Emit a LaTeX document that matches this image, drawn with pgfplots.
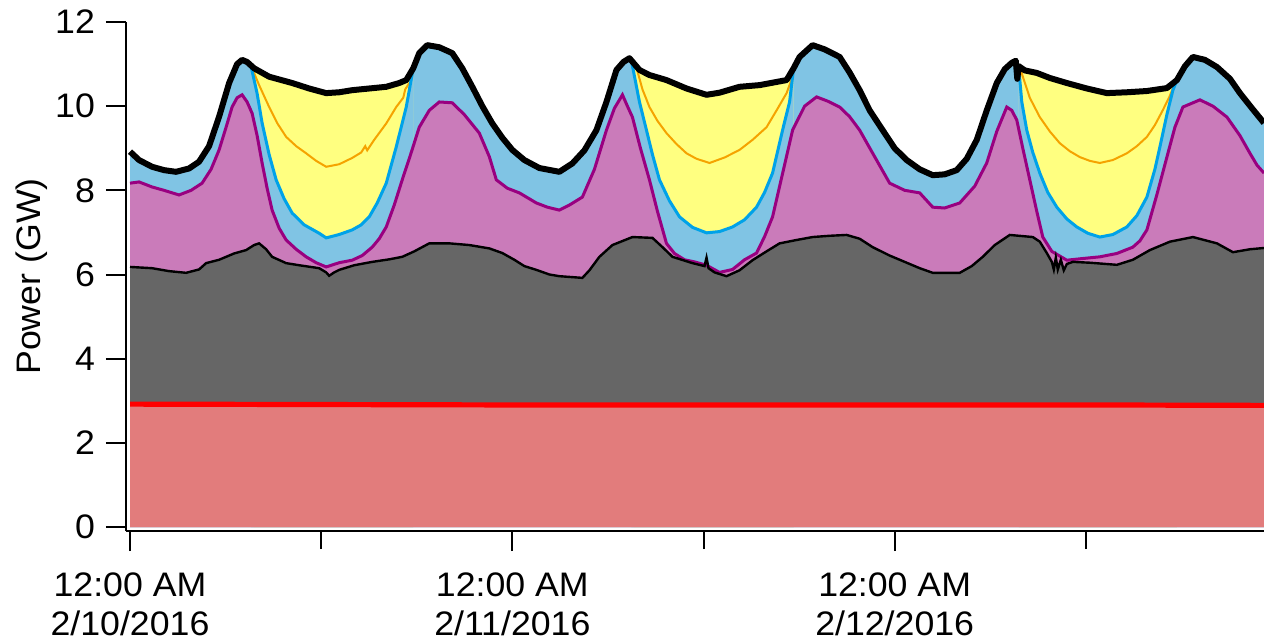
\documentclass[border=0pt]{standalone}
\usepackage{fontspec}
\setmainfont{Liberation Sans}[FakeStretch=1.05]
\usepackage{pgfplots}
\pgfplotsset{compat=1.18}
\usepackage{pgfplotstable}

\definecolor{cyellow}{HTML}{FFFF80}
\definecolor{clblue}{HTML}{80C4E4}
\definecolor{cmag}{HTML}{CA7BBA}
\definecolor{cpurp}{HTML}{990080}
\definecolor{cgray}{HTML}{666666}
\definecolor{csalmon}{HTML}{E27C7C}
\definecolor{cred}{HTML}{FF0000}
\definecolor{cblue}{HTML}{00A2E8}
\definecolor{corange}{HTML}{F5A300}

% Total (top black line)
\pgfplotstableread{
x y
0.0000 8.92
0.0236 8.72
0.0576 8.56
0.0890 8.48
0.1204 8.44
0.1545 8.52
0.1806 8.68
0.2068 9.05
0.2330 9.75
0.2592 10.55
0.2801 11.00
0.2932 11.10
0.3063 11.05
0.3246 10.90
0.3639 10.70
0.4241 10.55
0.4686 10.42
0.5131 10.31
0.5471 10.33
0.5812 10.38
0.6257 10.42
0.6702 10.46
0.7042 10.55
0.7225 10.62
0.7408 10.90
0.7565 11.26
0.7775 11.45
0.8089 11.40
0.8429 11.26
0.8691 10.90
0.8953 10.46
0.9215 10.00
0.9476 9.59
0.9738 9.25
1.0000 8.96
1.0314 8.72
1.0707 8.53
1.1230 8.44
1.1571 8.64
1.1885 8.95
1.2199 9.43
1.2461 10.10
1.2723 10.86
1.2906 11.05
1.3063 11.14
1.3194 11.00
1.3325 10.86
1.3586 10.74
1.4031 10.62
1.4555 10.42
1.5079 10.27
1.5419 10.32
1.5942 10.46
1.6466 10.50
1.7173 10.62
1.7356 10.90
1.7513 11.17
1.7853 11.45
1.8168 11.35
1.8560 11.17
1.8822 10.80
1.9084 10.38
1.9346 9.90
1.9686 9.43
2.0000 9.00
2.0314 8.72
2.0654 8.50
2.0995 8.36
2.1309 8.38
2.1623 8.48
2.1885 8.75
2.2147 9.20
2.2408 9.90
2.2670 10.55
2.2880 10.88
2.3063 11.03
2.3168 11.08
2.3207 10.65
2.3246 10.95
2.3403 10.85
2.3717 10.79
2.4058 10.67
2.4503 10.55
2.5026 10.42
2.5550 10.31
2.6073 10.33
2.6597 10.36
2.7120 10.43
2.7382 10.62
2.7592 10.95
2.7801 11.17
2.8115 11.10
2.8429 10.93
2.8770 10.65
2.9031 10.31
2.9346 9.95
2.9660 9.60
}\Ttab

% Blue line (bottom of yellow), day segments
\pgfplotstableread{
x y
0.3168 10.94
0.3325 10.30
0.3455 9.60
0.3639 8.85
0.3822 8.25
0.4031 7.80
0.4241 7.46
0.4555 7.18
0.4948 6.98
0.5131 6.87
0.5471 6.95
0.5812 7.06
0.6047 7.18
0.6257 7.37
0.6466 7.70
0.6702 8.17
0.6963 9.03
0.7225 9.98
0.7408 10.90
}\Ba
\pgfplotstableread{
x y
1.3115 11.08
1.3325 10.10
1.3508 9.43
1.3665 8.85
1.3848 8.25
1.4110 7.75
1.4372 7.37
1.4712 7.12
1.5079 6.99
1.5419 7.02
1.5759 7.13
1.6073 7.30
1.6387 7.60
1.6597 7.95
1.6806 8.41
1.7068 9.43
1.7251 10.10
1.7356 10.90
}\Bb
\pgfplotstableread{
x y
2.3246 10.90
2.3325 10.10
2.3455 9.43
2.3613 8.90
2.3796 8.41
2.4005 7.95
2.4241 7.60
2.4503 7.32
2.4764 7.13
2.5052 6.98
2.5366 6.89
2.5707 6.95
2.6073 7.13
2.6335 7.40
2.6597 7.84
2.6806 8.50
2.6937 9.03
2.7120 9.80
2.7277 10.38
2.7382 10.62
}\Bc

% Orange line
\pgfplotstableread{
x y
0.3194 10.90
0.3377 10.50
0.3639 9.98
0.3848 9.60
0.4084 9.27
0.4346 9.05
0.4607 8.88
0.4869 8.70
0.5131 8.56
0.5471 8.62
0.5812 8.77
0.6047 8.90
0.6152 9.05
0.6204 8.95
0.6387 9.20
0.6702 9.59
0.6963 9.98
0.7147 10.20
0.7199 10.40
0.7304 10.55
}\Oa
\pgfplotstableread{
x y
1.3220 11.00
1.3403 10.40
1.3586 9.98
1.3796 9.65
1.4031 9.36
1.4293 9.10
1.4555 8.88
1.4817 8.75
1.5157 8.65
1.5550 8.78
1.5942 8.96
1.6283 9.20
1.6649 9.50
1.6911 9.90
1.7173 10.31
1.7330 10.70
}\Ob
\pgfplotstableread{
x y
2.3298 10.85
2.3534 10.20
2.3796 9.74
2.4058 9.40
2.4319 9.12
2.4581 8.93
2.4843 8.79
2.5105 8.70
2.5366 8.65
2.5707 8.72
2.6073 8.88
2.6335 9.05
2.6597 9.27
2.6806 9.55
2.7016 9.91
2.7199 10.25
2.7330 10.55
}\Oc

% Purple line (top of magenta)
\pgfplotstableread{
x y
0.0000 8.17
0.0236 8.20
0.0576 8.08
0.0890 8.00
0.1283 7.89
0.1597 8.00
0.1885 8.17
0.2120 8.50
0.2330 8.96
0.2513 9.50
0.2670 9.98
0.2801 10.20
0.2932 10.27
0.3063 10.10
0.3194 9.83
0.3325 9.30
0.3455 8.65
0.3586 8.05
0.3717 7.53
0.3901 7.10
0.4084 6.82
0.4346 6.60
0.4607 6.42
0.4869 6.28
0.5131 6.18
0.5471 6.28
0.5812 6.34
0.6073 6.45
0.6335 6.65
0.6518 6.85
0.6702 7.13
0.6911 7.65
0.7120 8.25
0.7356 8.90
0.7565 9.50
0.7827 9.90
0.8089 10.10
0.8429 10.08
0.8743 9.80
0.9136 9.36
0.9398 8.80
0.9581 8.25
0.9869 8.05
1.0183 7.94
1.0628 7.70
1.0916 7.60
1.1230 7.53
1.1492 7.65
1.1832 7.84
1.2147 8.50
1.2461 9.43
1.2670 9.95
1.2880 10.27
1.3010 10.00
1.3141 9.74
1.3351 9.00
1.3586 8.25
1.3796 7.50
1.4031 6.74
1.4241 6.50
1.4503 6.35
1.4764 6.30
1.5079 6.22
1.5419 6.05
1.5759 6.12
1.6073 6.35
1.6387 6.51
1.6597 6.90
1.6806 7.37
1.7068 8.40
1.7330 9.43
1.7644 10.00
1.7958 10.22
1.8246 10.12
1.8560 9.98
1.8822 9.75
1.9084 9.43
1.9476 8.80
1.9869 8.17
2.0262 8.00
2.0654 7.94
2.0995 7.60
2.1309 7.58
2.1702 7.70
2.2094 8.10
2.2408 8.65
2.2670 9.40
2.2932 9.98
2.3063 9.90
2.3194 9.67
2.3351 9.00
2.3534 8.25
2.3717 7.50
2.3874 6.89
2.4110 6.55
2.4503 6.34
2.4921 6.38
2.5366 6.42
2.5812 6.50
2.6230 6.65
2.6414 6.80
2.6597 7.06
2.6859 7.90
2.7120 8.79
2.7330 9.50
2.7539 9.98
2.7984 10.15
2.8325 10.00
2.8691 9.74
2.9031 9.30
2.9293 8.88
2.9476 8.60
2.9660 8.41
}\Ptab

% Grey layer top
\pgfplotstableread{
x y
0.0000 6.18
0.0576 6.15
0.1021 6.08
0.1466 6.04
0.1806 6.12
0.1990 6.27
0.2330 6.35
0.2723 6.50
0.3037 6.58
0.3246 6.70
0.3377 6.74
0.3560 6.60
0.3717 6.42
0.4084 6.27
0.4424 6.22
0.4948 6.15
0.5131 6.05
0.5209 5.97
0.5340 6.05
0.5471 6.11
0.5864 6.22
0.6335 6.30
0.6780 6.36
0.7120 6.42
0.7435 6.55
0.7827 6.74
0.8351 6.74
0.8874 6.70
0.9398 6.62
0.9738 6.51
1.0052 6.35
1.0314 6.20
1.0628 6.11
1.0969 6.00
1.1230 5.96
1.1832 5.92
1.2016 6.10
1.2277 6.42
1.2618 6.70
1.3141 6.89
1.3665 6.87
1.3927 6.65
1.4188 6.42
1.4712 6.27
1.5026 6.20
1.5079 6.40
1.5131 6.15
1.5288 6.05
1.5602 5.96
1.5942 6.10
1.6283 6.34
1.6649 6.55
1.6990 6.74
1.7435 6.82
1.7853 6.89
1.8298 6.92
1.8743 6.94
1.9084 6.85
1.9424 6.65
1.9869 6.45
2.0262 6.30
2.0654 6.15
2.0995 6.04
2.1702 6.04
2.2016 6.20
2.2304 6.42
2.2618 6.70
2.3010 6.94
2.3613 6.89
2.3796 6.78
2.3979 6.51
2.4110 6.30
2.4162 6.12
2.4215 6.40
2.4267 6.12
2.4346 6.35
2.4424 6.10
2.4503 6.25
2.4660 6.30
2.5105 6.28
2.5812 6.23
2.6230 6.35
2.6675 6.58
2.7199 6.78
2.7801 6.89
2.8429 6.74
2.8848 6.53
2.9293 6.60
2.9660 6.63
}\Gtab

% Red layer top
\pgfplotstableread{
x y
0.0000 2.92
0.5000 2.91
1.0000 2.90
1.5000 2.90
2.0000 2.90
2.5000 2.90
2.9660 2.89
}\Rtab

\begin{document}
\begin{tikzpicture}
\begin{axis}[
  scale only axis,
  width=569pt, height=254.5pt,
  xmin=-0.0105, xmax=2.966,
  ymin=-0.095, ymax=12,
  axis x line*=bottom, axis y line*=left,
  axis line style={-, line width=1pt, black},
  xtick={0,1,2},
  xticklabels={{12:00 AM\\2/10/2016},{12:00 AM\\2/11/2016},{12:00 AM\\2/12/2016}},
  minor xtick={0.5,1.5,2.5},
  ytick={0,2,4,6,8,10,12},
  tick align=outside,
  major tick length=10pt, minor tick length=9pt,
  every tick/.style={black, line width=1pt},
  /pgf/number format/assume math mode=true,
  tick label style={font=\fontsize{17}{19.5}\selectfont},
  xticklabel style={align=center, yshift=-7.5pt},
  yticklabel style={xshift=-2pt},
  ylabel={Power (GW)},
  ylabel style={font=\fontsize{17}{19.5}\selectfont, at={(axis description cs:-0.0826,0.5)}, anchor=center},
  clip=true,
]
\coordinate (O) at (rel axis cs:0,0);
\coordinate (E) at (rel axis cs:1,1);
% fills
\addplot[draw=none, fill=clblue] table {\Ttab} \closedcycle;
\addplot[draw=none, fill=cyellow, restrict x to domain=0.3168:0.7408] table {\Ttab} \closedcycle;
\addplot[draw=none, fill=cyellow, restrict x to domain=1.3115:1.7356] table {\Ttab} \closedcycle;
\addplot[draw=none, fill=cyellow, restrict x to domain=2.3246:2.7382] table {\Ttab} \closedcycle;
\addplot[draw=none, fill=clblue] table {\Ba} \closedcycle;
\addplot[draw=none, fill=clblue] table {\Bb} \closedcycle;
\addplot[draw=none, fill=clblue] table {\Bc} \closedcycle;
\addplot[draw=none, fill=cmag] table {\Ptab} \closedcycle;
\addplot[draw=none, fill=cgray] table {\Gtab} \closedcycle;
\addplot[draw=none, fill=csalmon] table {\Rtab} \closedcycle;
% lines
\addplot[corange, line width=1pt] table {\Oa};
\addplot[corange, line width=1pt] table {\Ob};
\addplot[corange, line width=1pt] table {\Oc};
\addplot[cblue, line width=1.5pt] table {\Ba};
\addplot[cblue, line width=1.5pt] table {\Bb};
\addplot[cblue, line width=1.5pt] table {\Bc};
\addplot[cpurp, line width=1.5pt] table {\Ptab};
\addplot[black, line width=1.2pt] table {\Gtab};
\addplot[cred, line width=2.6pt] table {\Rtab};
\addplot[black, line width=3pt, line join=round] table {\Ttab};
\end{axis}
\pgfresetboundingbox
\path[use as bounding box] (O) ++(-63pt,-56pt) rectangle ([yshift=11pt]E);
\end{tikzpicture}
\end{document}
